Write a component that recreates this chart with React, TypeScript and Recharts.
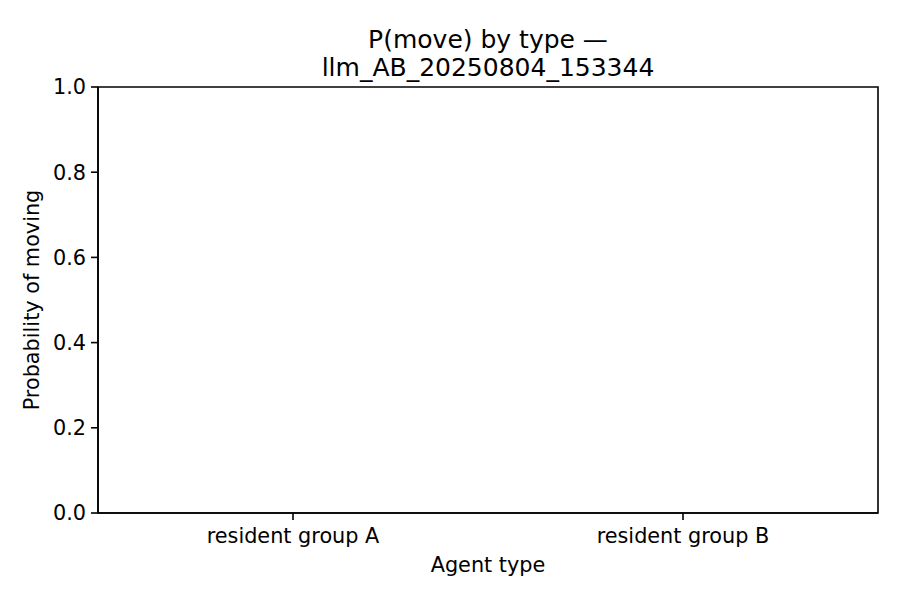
import { BarChart, Bar, XAxis, YAxis, Label, ReferenceArea } from 'recharts';

// run id shown in the title
const runId = 'llm_AB_20250804_153344';

const agentTypes = ['resident group A', 'resident group B'];
const pMove = [0, 0];
const yTicks = [0, 0.2, 0.4, 0.6, 0.8, 1.0];

const chartData = agentTypes.map((t, i) => ({ type: t, p: pMove[i] }));

const FONT = '"DejaVu Sans", sans-serif';
const tickStyle = { fill: '#000', fontSize: 20.8, fontFamily: FONT };
const AX = { stroke: '#000', strokeWidth: 1.6 };

export default function App() {
  return (
    <div style={{ position: 'absolute', left: 0, top: 0, width: 900, height: 600, background: '#fff' }}>
      <div
        style={{
          position: 'absolute',
          left: 0,
          top: 26,
          width: 976,
          textAlign: 'center',
          fontFamily: FONT,
          fontSize: 25,
          lineHeight: '28px',
          color: '#000',
        }}
      >
        <div>P(move) by type —</div>
        <div>{runId}</div>
      </div>
      <BarChart
        width={900}
        height={600}
        data={chartData}
        margin={{ top: 87, right: 22, left: 0, bottom: 0 }}
        barCategoryGap="10%"
      >
        <XAxis
          dataKey="type"
          height={87}
          tick={tickStyle}
          tickSize={7}
          tickMargin={8}
          axisLine={AX}
          tickLine={AX}
        >
          <Label value="Agent type" position="insideBottom" offset={28} style={tickStyle} />
        </XAxis>
        <YAxis
          domain={[0, 1]}
          ticks={yTicks}
          width={98}
          tick={tickStyle}
          tickSize={7}
          tickMargin={5}
          axisLine={AX}
          tickLine={AX}
          tickFormatter={(v: number) => v.toFixed(1)}
        >
          <Label
            value="Probability of moving"
            angle={-90}
            position="insideLeft"
            offset={32}
            style={{ ...tickStyle, textAnchor: 'middle' }}
          />
        </YAxis>
        {/* axes frame (top and right spines) */}
        <ReferenceArea y1={0} y2={1} fill="none" fillOpacity={0} stroke="#000" strokeWidth={1.6} />
        <Bar dataKey="p" fill="#1f77b4" isAnimationActive={false} />
      </BarChart>
    </div>
  );
}
